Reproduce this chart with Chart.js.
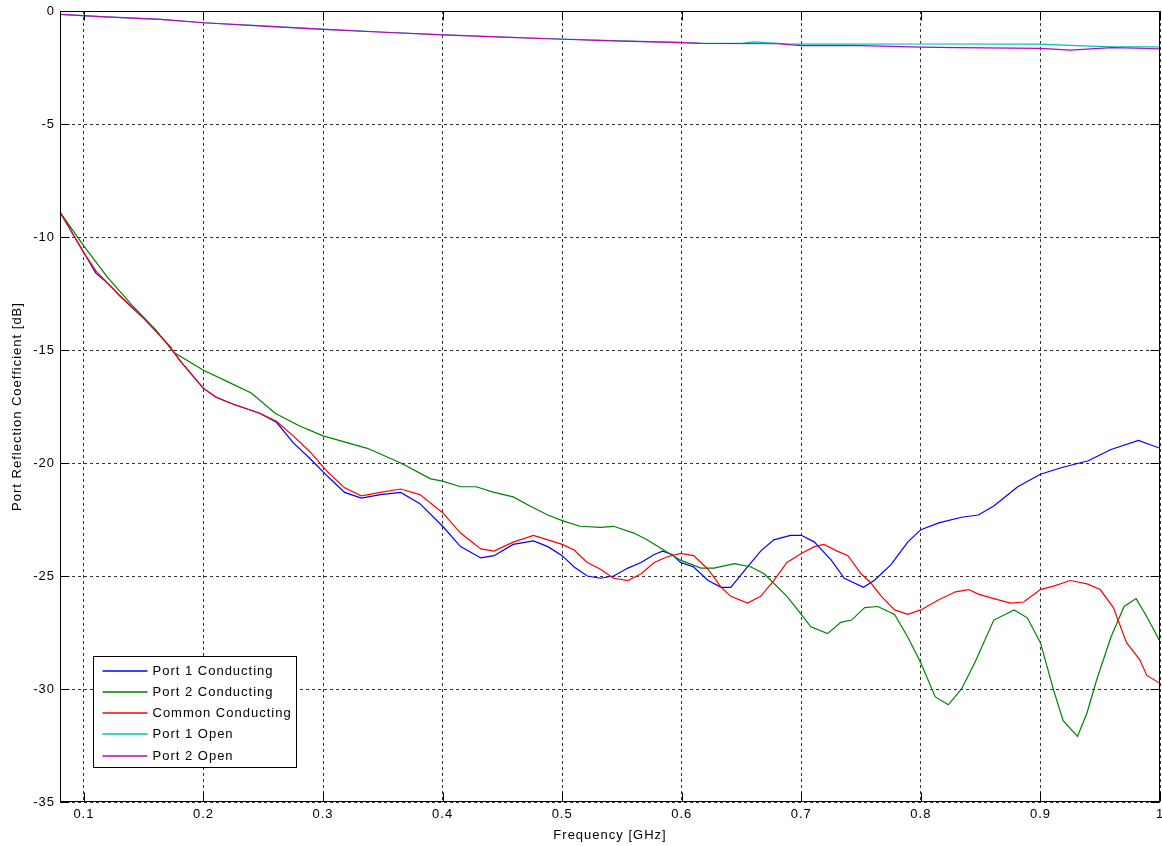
<!DOCTYPE html>
<html>
<head>
<meta charset="utf-8">
<script src="https://cdn.jsdelivr.net/npm/chart.js@4.4.1/dist/chart.umd.min.js"></script>
<style>
  html, body { margin: 0; padding: 0; background: #fff; }
  #chart { display: block; }
</style>
</head>
<body>
<canvas id="chart" width="1162" height="846"></canvas>
<script>
// axis ticks
const xTicks = [0.1, 0.2, 0.3, 0.4, 0.5, 0.6, 0.7, 0.8, 0.9, 1];
const xTickLabels = ["0.1", "0.2", "0.3", "0.4", "0.5", "0.6", "0.7", "0.8", "0.9", "1"];
const yTicks = [-35, -30, -25, -20, -15, -10, -5, 0];
const yTickLabels = ["-35", "-30", "-25", "-20", "-15", "-10", "-5", "0"];

// Port 1 Conducting
const p1CondFreq = [0.08, 0.09, 0.10, 0.11, 0.12, 0.13, 0.14, 0.15, 0.16, 0.172, 0.18, 0.192, 0.20, 0.211, 0.225, 0.236, 0.247, 0.261, 0.275, 0.289, 0.304, 0.318, 0.332, 0.348, 0.365, 0.381, 0.40, 0.415, 0.432, 0.443, 0.459, 0.476, 0.488, 0.50, 0.51, 0.521, 0.532, 0.543, 0.555, 0.566, 0.577, 0.584, 0.592, 0.599, 0.61, 0.622, 0.633, 0.641, 0.655, 0.666, 0.677, 0.691, 0.70, 0.711, 0.725, 0.736, 0.752, 0.761, 0.775, 0.789, 0.80, 0.815, 0.834, 0.848, 0.861, 0.881, 0.90, 0.918, 0.94, 0.959, 0.982, 1.0];
const p1CondDb = [-8.9, -9.8, -10.7, -11.6, -12.05, -12.6, -13.1, -13.6, -14.15, -14.85, -15.45, -16.2, -16.7, -17.1, -17.4, -17.6, -17.8, -18.2, -19.1, -19.8, -20.6, -21.3, -21.55, -21.4, -21.3, -21.8, -22.8, -23.7, -24.2, -24.1, -23.6, -23.45, -23.7, -24.1, -24.6, -25.0, -25.1, -25.0, -24.65, -24.4, -24.05, -23.9, -24.05, -24.4, -24.6, -25.2, -25.5, -25.5, -24.6, -23.9, -23.4, -23.2, -23.2, -23.5, -24.3, -25.1, -25.5, -25.2, -24.5, -23.5, -22.95, -22.65, -22.4, -22.3, -21.9, -21.05, -20.5, -20.2, -19.9, -19.4, -19.0, -19.35];

// Port 2 Conducting
const p2CondFreq = [0.08, 0.10, 0.12, 0.14, 0.16, 0.175, 0.20, 0.22, 0.24, 0.26, 0.28, 0.30, 0.32, 0.337, 0.348, 0.365, 0.39, 0.40, 0.415, 0.428, 0.443, 0.459, 0.473, 0.488, 0.50, 0.515, 0.532, 0.543, 0.56, 0.571, 0.588, 0.599, 0.616, 0.627, 0.644, 0.658, 0.669, 0.688, 0.70, 0.708, 0.722, 0.733, 0.742, 0.753, 0.764, 0.778, 0.789, 0.80, 0.812, 0.823, 0.834, 0.845, 0.861, 0.878, 0.889, 0.90, 0.911, 0.919, 0.931, 0.939, 0.947, 0.959, 0.97, 0.98, 0.989, 1.0];
const p2CondDb = [-8.9, -10.4, -11.8, -13.0, -14.1, -15.1, -15.9, -16.4, -16.9, -17.8, -18.35, -18.8, -19.1, -19.35, -19.6, -20.0, -20.7, -20.8, -21.05, -21.05, -21.3, -21.5, -21.9, -22.3, -22.55, -22.8, -22.85, -22.8, -23.1, -23.4, -23.95, -24.3, -24.65, -24.65, -24.45, -24.6, -24.9, -25.9, -26.7, -27.25, -27.55, -27.05, -26.95, -26.4, -26.35, -26.7, -27.7, -28.85, -30.35, -30.7, -30.0, -28.85, -26.95, -26.5, -26.85, -27.95, -30.05, -31.4, -32.1, -31.05, -29.6, -27.7, -26.35, -26.0, -26.8, -27.9];

// Common Conducting
const commonFreq = [0.08, 0.09, 0.10, 0.11, 0.12, 0.13, 0.14, 0.15, 0.16, 0.172, 0.18, 0.192, 0.20, 0.211, 0.225, 0.236, 0.247, 0.261, 0.275, 0.289, 0.304, 0.318, 0.332, 0.348, 0.365, 0.381, 0.40, 0.415, 0.432, 0.443, 0.459, 0.476, 0.488, 0.50, 0.51, 0.521, 0.532, 0.543, 0.555, 0.566, 0.577, 0.588, 0.599, 0.61, 0.622, 0.633, 0.641, 0.655, 0.666, 0.677, 0.688, 0.70, 0.711, 0.719, 0.73, 0.739, 0.75, 0.758, 0.767, 0.778, 0.789, 0.80, 0.815, 0.829, 0.84, 0.848, 0.861, 0.875, 0.886, 0.90, 0.911, 0.925, 0.939, 0.95, 0.961, 0.972, 0.983, 0.989, 1.0];
const commonDb = [-8.9, -9.8, -10.7, -11.5, -12.05, -12.6, -13.1, -13.6, -14.15, -14.85, -15.45, -16.2, -16.7, -17.1, -17.4, -17.6, -17.8, -18.15, -18.8, -19.5, -20.4, -21.1, -21.45, -21.3, -21.15, -21.4, -22.2, -23.1, -23.8, -23.9, -23.5, -23.2, -23.4, -23.6, -23.85, -24.4, -24.7, -25.1, -25.2, -24.9, -24.4, -24.15, -24.0, -24.1, -24.7, -25.5, -25.9, -26.2, -25.9, -25.2, -24.4, -24.0, -23.7, -23.6, -23.9, -24.1, -24.9, -25.3, -25.9, -26.5, -26.7, -26.5, -26.05, -25.7, -25.6, -25.8, -26.0, -26.2, -26.15, -25.6, -25.45, -25.2, -25.35, -25.6, -26.4, -27.95, -28.7, -29.4, -29.75];

// Port 1 Open
const p1OpenFreq = [0.08, 0.114, 0.164, 0.2, 0.25, 0.3, 0.35, 0.4, 0.45, 0.5, 0.55, 0.6, 0.616, 0.65, 0.66, 0.69, 0.73, 0.8, 0.9, 0.93, 0.96, 1.0];
const p1OpenDb = [-0.15, -0.25, -0.37, -0.52, -0.66, -0.8, -0.93, -1.05, -1.15, -1.24, -1.32, -1.39, -1.43, -1.43, -1.37, -1.47, -1.47, -1.46, -1.47, -1.53, -1.59, -1.59];

// Port 2 Open
const p2OpenFreq = [0.08, 0.114, 0.164, 0.2, 0.25, 0.3, 0.35, 0.4, 0.45, 0.5, 0.55, 0.6, 0.616, 0.68, 0.7, 0.75, 0.8, 0.83, 0.9, 0.925, 0.96, 0.99, 1.0];
const p2OpenDb = [-0.15, -0.25, -0.37, -0.52, -0.67, -0.81, -0.94, -1.06, -1.16, -1.25, -1.33, -1.4, -1.43, -1.45, -1.53, -1.53, -1.6, -1.62, -1.65, -1.73, -1.62, -1.66, -1.68];

const series = [
  { label: "Port 1 Conducting", color: "#0000ff", freq: p1CondFreq, db: p1CondDb },
  { label: "Port 2 Conducting", color: "#008000", freq: p2CondFreq, db: p2CondDb },
  { label: "Common Conducting", color: "#ff0000", freq: commonFreq, db: commonDb },
  { label: "Port 1 Open", color: "#00bfbf", freq: p1OpenFreq, db: p1OpenDb },
  { label: "Port 2 Open", color: "#bf00bf", freq: p2OpenFreq, db: p2OpenDb },
];

const TICK_LEN = 9;

// matlab style frame: solid box, inward ticks on all sides, legend inside the axes
const matlabFrame = {
  id: "matlabFrame",
  beforeDraw(chart) {
    chart.ctx.letterSpacing = "1px";
  },
  afterDatasetsDraw(chart) {
    const { ctx, chartArea: a, scales } = chart;
    const left = Math.round(a.left) + 0.5;
    const right = Math.round(a.right) - 0.5;
    const top = Math.round(a.top) + 0.5;
    const bottom = Math.round(a.bottom) - 0.5;
    ctx.save();
    ctx.setLineDash([]);
    ctx.strokeStyle = "#000";
    ctx.lineWidth = 1;
    ctx.beginPath();
    scales.x.ticks.forEach((t) => {
      const px = Math.round(scales.x.getPixelForValue(t.value)) + 0.5;
      ctx.moveTo(px, bottom); ctx.lineTo(px, bottom - TICK_LEN);
      ctx.moveTo(px, top); ctx.lineTo(px, top + TICK_LEN);
    });
    scales.y.ticks.forEach((t) => {
      const py = Math.round(scales.y.getPixelForValue(t.value)) + 0.5;
      ctx.moveTo(left, py); ctx.lineTo(left + TICK_LEN, py);
      ctx.moveTo(right, py); ctx.lineTo(right - TICK_LEN, py);
    });
    ctx.stroke();
    ctx.strokeRect(left, top, right - left, bottom - top);
    ctx.restore();
  },
  afterDraw(chart) {
    const { ctx, chartArea: a } = chart;
    const bx = Math.round(a.left) + 33.5;
    const by = Math.round(a.bottom) - 145.5;
    const bw = 203, bh = 111, rowH = 21.3;
    ctx.save();
    ctx.letterSpacing = "1px";
    ctx.fillStyle = "#fff";
    ctx.fillRect(bx, by, bw, bh);
    ctx.strokeStyle = "#000";
    ctx.lineWidth = 1;
    ctx.setLineDash([]);
    ctx.strokeRect(bx, by, bw, bh);
    ctx.font = '13px "Liberation Sans", Arial, sans-serif';
    ctx.textBaseline = "middle";
    ctx.textAlign = "left";
    chart.data.datasets.forEach((ds, i) => {
      const cy = Math.round(by + 14 + i * rowH);
      ctx.strokeStyle = series[i].color;
      ctx.lineWidth = 1.5;
      ctx.beginPath();
      ctx.moveTo(bx + 9, cy);
      ctx.lineTo(bx + 54, cy);
      ctx.stroke();
      ctx.fillStyle = "#000";
      ctx.fillText(ds.label, bx + 59, cy);
    });
    ctx.restore();
  },
};

Chart.defaults.font.family = '"Liberation Sans", Arial, sans-serif';
Chart.defaults.font.size = 13;
Chart.defaults.color = "#000";

function noPadding(scale) {
  scale.paddingLeft = 0;
  scale.paddingRight = 0;
  scale.paddingTop = 0;
  scale.paddingBottom = 0;
}

new Chart(document.getElementById("chart"), {
  type: "line",
  data: {
    datasets: series.map((s, i) => ({
      label: s.label,
      data: s.freq.map((f, j) => ({ x: f, y: s.db[j] })),
      borderColor: s.color,
      backgroundColor: s.color,
      borderWidth: 1.2,
      pointRadius: 0,
      tension: 0,
      fill: false,
      order: series.length - i,
    })),
  },
  options: {
    responsive: false,
    animation: false,
    devicePixelRatio: 1,
    layout: { padding: { top: 11, right: 2, left: 0, bottom: 0 } },
    plugins: { legend: { display: false }, tooltip: { enabled: false } },
    scales: {
      x: {
        type: "linear",
        min: 0.08,
        max: 1,
        afterBuildTicks: (scale) => { scale.ticks = xTicks.map((v) => ({ value: v })); },
        afterFit: (scale) => { scale.height = 44; noPadding(scale); },
        ticks: {
          autoSkip: false,
          maxRotation: 0,
          padding: 5,
          callback: (v, i) => xTickLabels[i],
        },
        grid: { color: "rgba(0,0,0,0.8)", lineWidth: 1, drawTicks: false },
        border: { display: false, dash: [3, 3] },
        title: { display: true, text: "Frequency [GHz]", padding: { top: 0, bottom: 3 } },
      },
      y: {
        min: -35,
        max: 0,
        afterBuildTicks: (scale) => { scale.ticks = yTicks.map((v) => ({ value: v })); },
        afterFit: (scale) => { scale.width = 60; noPadding(scale); },
        ticks: {
          autoSkip: false,
          padding: 5,
          callback: (v, i) => yTickLabels[i],
        },
        grid: { color: "rgba(0,0,0,0.8)", lineWidth: 1, drawTicks: false },
        border: { display: false, dash: [3, 3] },
        title: { display: true, text: "Port Reflection Coefficient [dB]", padding: { top: 10, bottom: 0 } },
      },
    },
  },
  plugins: [matlabFrame],
});
</script>
</body>
</html>
